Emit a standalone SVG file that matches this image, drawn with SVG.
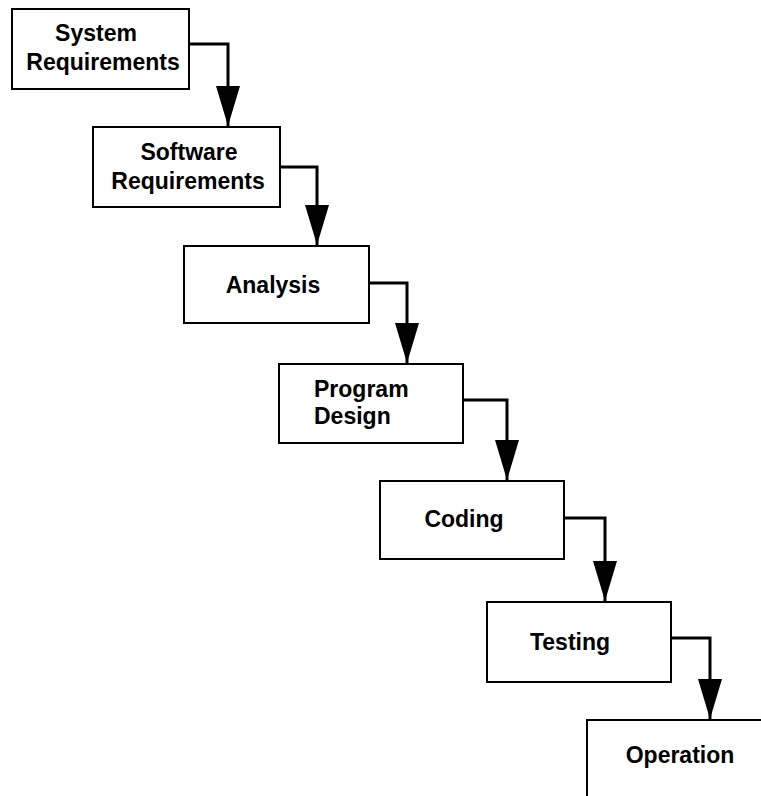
<svg xmlns="http://www.w3.org/2000/svg" width="761" height="796" viewBox="0 0 761 796">
<style>
.box{fill:#fff;stroke:#000;stroke-width:2}
.lbl{font-family:"Liberation Sans",Arial,Helvetica,sans-serif;font-weight:bold;font-size:23px;fill:#000;text-anchor:middle}
.conn{fill:none;stroke:#000;stroke-width:3;marker-end:url(#ah)}
</style>
<defs>
<marker id="ah" viewBox="0 0 40 24" refX="40" refY="12" markerWidth="40" markerHeight="24" markerUnits="userSpaceOnUse" orient="auto">
<path d="M0,0 L40,12 L0,24 z" fill="#000"/>
</marker>
</defs>
<rect width="761" height="796" fill="#fff"/>
<g id="connectors">
<path class="conn" d="M189,44 H228 V126"/>
<path class="conn" d="M280,167 H317 V245"/>
<path class="conn" d="M369,283 H407 V363"/>
<path class="conn" d="M463,400 H507 V480"/>
<path class="conn" d="M564,518 H605 V601"/>
<path class="conn" d="M671,638 H710 V719"/>
</g>
<g id="system-requirements">
<rect class="box" x="12" y="9" width="177" height="80"/>
<text class="lbl" x="96" y="41">System</text>
<text class="lbl" x="103" y="70">Requirements</text>
</g>
<g id="software-requirements">
<rect class="box" x="93" y="127" width="187" height="80"/>
<text class="lbl" x="189" y="160">Software</text>
<text class="lbl" x="188" y="189">Requirements</text>
</g>
<g id="analysis">
<rect class="box" x="184" y="246" width="185" height="77"/>
<text class="lbl" x="273" y="293">Analysis</text>
</g>
<g id="program-design">
<rect class="box" x="279" y="364" width="184" height="79"/>
<text class="lbl" x="314" y="397" text-anchor="start" style="text-anchor:start">Program</text>
<text class="lbl" x="314" y="424" style="text-anchor:start">Design</text>
</g>
<g id="coding">
<rect class="box" x="380" y="481" width="184" height="78"/>
<text class="lbl" x="464" y="527">Coding</text>
</g>
<g id="testing">
<rect class="box" x="487" y="602" width="184" height="80"/>
<text class="lbl" x="570" y="650">Testing</text>
</g>
<g id="operation">
<rect class="box" x="587" y="720" width="200" height="100"/>
<text class="lbl" x="680" y="763">Operation</text>
</g>
</svg>
